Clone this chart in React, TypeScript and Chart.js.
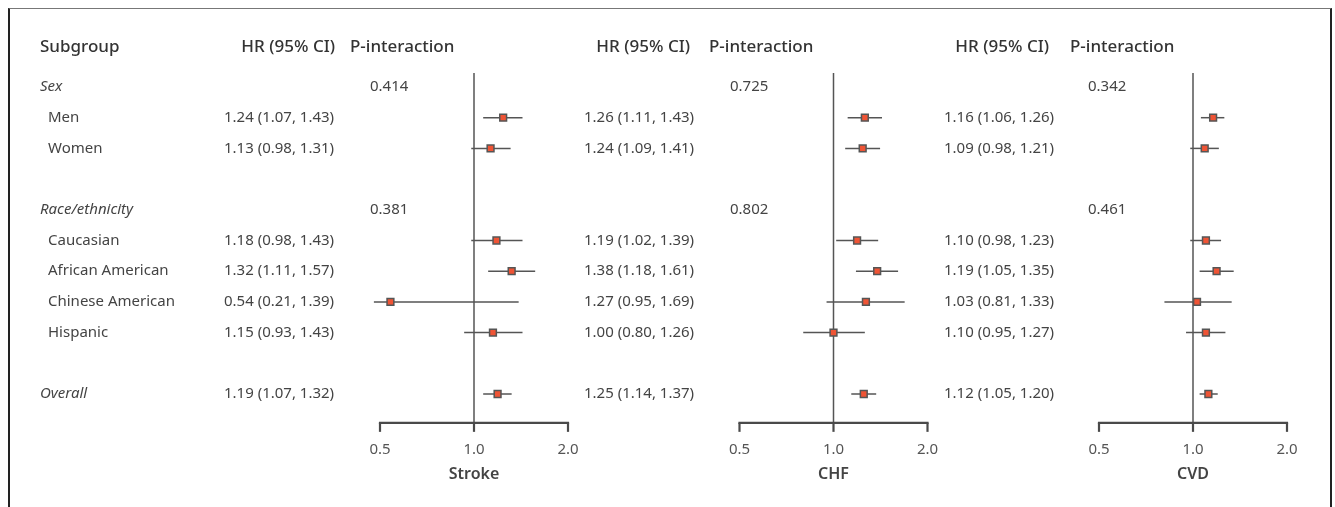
import React, { useEffect, useRef } from "react";
import { Chart, registerables } from "chart.js";
Chart.register(...registerables);

// ---------------- data ----------------
const rowLabels = [
  "Sex", "Men", "Women", "",
  "Race/ethnicity", "Caucasian", "African American", "Chinese American", "Hispanic", "",
  "Overall",
];
const italicRows = [0, 4, 10];
const pointRows = [1, 2, 5, 6, 7, 8, 10];
const pRows = [0, 4];
const outcomeNames = ["Stroke", "CHF", "CVD"];

const strokeHR = [1.24, 1.13, 1.18, 1.32, 0.54, 1.15, 1.19];
const strokeLo = [1.07, 0.98, 0.98, 1.11, 0.21, 0.93, 1.07];
const strokeHi = [1.43, 1.31, 1.43, 1.57, 1.39, 1.43, 1.32];
const strokeP = ["0.414", "0.381"];

const chfHR = [1.26, 1.24, 1.19, 1.38, 1.27, 1.0, 1.25];
const chfLo = [1.11, 1.09, 1.02, 1.18, 0.95, 0.8, 1.14];
const chfHi = [1.43, 1.41, 1.39, 1.61, 1.69, 1.26, 1.37];
const chfP = ["0.725", "0.802"];

const cvdHR = [1.16, 1.09, 1.1, 1.19, 1.03, 1.1, 1.12];
const cvdLo = [1.06, 0.98, 0.98, 1.05, 0.81, 0.95, 1.05];
const cvdHi = [1.26, 1.21, 1.23, 1.35, 1.33, 1.27, 1.2];
const cvdP = ["0.342", "0.461"];

const tickValues = [0.5, 1.0, 2.0];
const tickLabels = ["0.5", "1.0", "2.0"];

const panels = [
  { name: outcomeNames[0], hr: strokeHR, lo: strokeLo, hi: strokeHi, p: strokeP },
  { name: outcomeNames[1], hr: chfHR, lo: chfLo, hi: chfHi, p: chfP },
  { name: outcomeNames[2], hr: cvdHR, lo: cvdLo, hi: cvdHi, p: cvdP },
];

// ---------------- layout ----------------
const W = 1335;
const H = 507;
const FONT = '"Noto Sans", "Open Sans", sans-serif';
const PX_PER_DOUBLING = 94;
const REF_X = [474, 833.5, 1193];
const ROW0_Y = 87;
const ROW_H = 30.7;
const HEADER_ROW = -1.3;
const REF_TOP_ROW = -0.46;
const AXIS_ROW = 10.94;
const CLIP_MIN = 0.478;
const CLIP_MAX = 2.3;
const LABEL_X = 40;
const ITEM_X = 48;
const HR_X = [224, 584, 944];
const HR_HEAD_RIGHT = [335, 690, 1049];
const P_HEAD_X = [350, 709, 1070];
const P_X = [370, 730, 1088];

const TEXT = "#444";
const HEAD = "#333";
const LINE = "#555";
const MARK = "#ef5435";

const fmt = (v: number) => v.toFixed(2);

const forestPlugin = {
  id: "forest",
  beforeDatasetsDraw(chart: any) {
    const ctx = chart.ctx;
    const ys = chart.scales.y;
    const axisY = ys.getPixelForValue(AXIS_ROW);
    ctx.save();
    panels.forEach((p, i) => {
      const xs = chart.scales["x" + i];
      const x1 = xs.getPixelForValue(1);
      // reference line
      ctx.strokeStyle = LINE;
      ctx.lineWidth = 1.5;
      ctx.beginPath();
      ctx.moveTo(x1, ys.getPixelForValue(REF_TOP_ROW));
      ctx.lineTo(x1, axisY);
      ctx.stroke();
      // axis
      ctx.strokeStyle = "#4a4a4a";
      ctx.lineWidth = 2.2;
      ctx.beginPath();
      ctx.moveTo(xs.getPixelForValue(tickValues[0]) - 1.1, axisY);
      ctx.lineTo(xs.getPixelForValue(tickValues[tickValues.length - 1]) + 1.1, axisY);
      ctx.stroke();
      tickValues.forEach((t, k) => {
        const tx = xs.getPixelForValue(t);
        ctx.beginPath();
        ctx.moveTo(tx, axisY);
        ctx.lineTo(tx, axisY + 9);
        ctx.stroke();
        ctx.fillStyle = "#555";
        ctx.font = `15px ${FONT}`;
        ctx.textAlign = "center";
        ctx.textBaseline = "middle";
        ctx.fillText(tickLabels[k], tx, axisY + 27);
      });
      ctx.fillStyle = "#444";
      ctx.font = `600 16px ${FONT}`;
      ctx.textAlign = "center";
      ctx.fillText(p.name, x1, axisY + 52);
      // CIs
      ctx.strokeStyle = LINE;
      ctx.lineWidth = 1.5;
      p.lo.forEach((lo, j) => {
        const y = ys.getPixelForValue(pointRows[j]);
        const a = xs.getPixelForValue(Math.max(lo, CLIP_MIN));
        const b = xs.getPixelForValue(Math.min(p.hi[j], CLIP_MAX));
        ctx.beginPath();
        ctx.moveTo(a, y);
        ctx.lineTo(b, y);
        ctx.stroke();
      });
    });
    ctx.restore();
  },
  afterDatasetsDraw(chart: any) {
    const ctx = chart.ctx;
    const ys = chart.scales.y;
    ctx.save();
    ctx.textBaseline = "middle";
    const hy = ys.getPixelForValue(HEADER_ROW);
    // headers
    ctx.fillStyle = HEAD;
    ctx.font = `500 17px ${FONT}`;
    ctx.textAlign = "left";
    ctx.fillText("Subgroup", LABEL_X, hy);
    panels.forEach((p, i) => {
      ctx.textAlign = "right";
      ctx.fillText("HR (95% CI)", HR_HEAD_RIGHT[i], hy);
      ctx.textAlign = "left";
      ctx.fillText("P-interaction", P_HEAD_X[i], hy);
    });
    // row labels
    ctx.fillStyle = TEXT;
    rowLabels.forEach((lab, r) => {
      if (!lab) return;
      const it = italicRows.includes(r);
      ctx.font = `${it ? "italic " : ""}15px ${FONT}`;
      ctx.textAlign = "left";
      ctx.fillText(lab, it ? LABEL_X : ITEM_X, ys.getPixelForValue(r));
    });
    // values
    ctx.font = `15px ${FONT}`;
    panels.forEach((p, i) => {
      p.hr.forEach((v, j) => {
        ctx.fillText(`${fmt(v)} (${fmt(p.lo[j])}, ${fmt(p.hi[j])})`, HR_X[i], ys.getPixelForValue(pointRows[j]));
      });
      p.p.forEach((pv, k) => {
        ctx.fillText(pv, P_X[i], ys.getPixelForValue(pRows[k]));
      });
    });
    ctx.restore();
  },
};

export default function App() {
  const ref = useRef<HTMLCanvasElement | null>(null);
  useEffect(() => {
    if (!ref.current) return;
    const scales: any = {
      y: {
        type: "linear",
        display: false,
        reverse: true,
        min: -ROW0_Y / ROW_H,
        max: (H - ROW0_Y) / ROW_H,
      },
    };
    panels.forEach((_, i) => {
      scales["x" + i] = {
        type: "logarithmic",
        axis: "x",
        position: "bottom",
        display: false,
        bounds: "data",
        min: Math.pow(2, -REF_X[i] / PX_PER_DOUBLING),
        max: Math.pow(2, (W - REF_X[i]) / PX_PER_DOUBLING),
      };
    });
    const chart = new Chart(ref.current, {
      type: "scatter",
      data: {
        datasets: panels.map((p, i) => ({
          label: p.name,
          xAxisID: "x" + i,
          yAxisID: "y",
          data: p.hr.map((v, j) => ({ x: v, y: pointRows[j] })),
          pointStyle: "rect",
          pointRadius: 4.8,
          backgroundColor: MARK,
          borderColor: "#555",
          borderWidth: 1.5,
          clip: false,
        })),
      },
      options: {
        animation: false,
        responsive: false,
        events: [],
        layout: { padding: 0, autoPadding: false },
        plugins: { legend: { display: false }, tooltip: { enabled: false }, title: { display: false } },
        scales,
      },
      plugins: [forestPlugin],
    } as any);
    return () => chart.destroy();
  }, []);
  return (
    <div style={{ position: "absolute", left: 0, top: 0, width: W, height: H, overflow: "hidden", background: "#fff" }}>
      <canvas ref={ref} width={W} height={H} style={{ display: "block", width: W, height: H }} />
      <div
        style={{
          position: "absolute",
          left: 8,
          top: 8,
          width: 1320,
          height: 560,
          borderLeft: "2px solid #222",
          borderRight: "2px solid #222",
          borderTop: "1px solid #777",
          pointerEvents: "none",
        }}
      />
    </div>
  );
}
